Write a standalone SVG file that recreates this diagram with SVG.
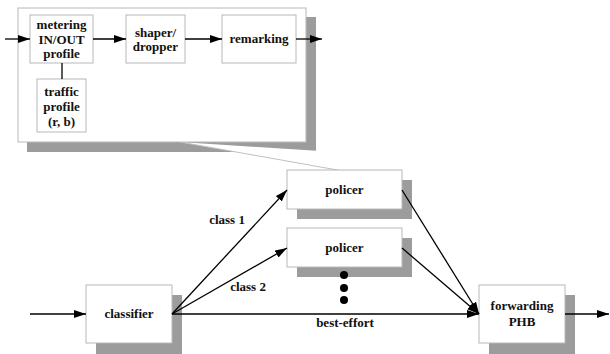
<svg xmlns="http://www.w3.org/2000/svg" width="610" height="354" viewBox="0 0 610 354">
<defs>
<style>
.box{fill:#fff;stroke:#b8b8b8;stroke-width:1}
.shadow{fill:#9c9c9c}
.t{font-family:'Liberation Serif','DejaVu Serif',serif;font-weight:bold;font-size:13px;fill:#111;text-anchor:middle}
.ln{stroke:#000;stroke-width:1.3;fill:none}
.arr{stroke:#000;stroke-width:1.3;fill:none;marker-end:url(#ah)}
</style>
<marker id="ah" markerUnits="userSpaceOnUse" markerWidth="13" markerHeight="9" refX="12" refY="4" orient="auto">
<path d="M0,0 L12,4 L0,8 z" fill="#000"/>
</marker>
</defs>
<rect width="610" height="354" fill="#fff"/>

<g id="callout">
<rect class="shadow" x="27" y="17" width="289" height="135"/>
<polygon points="180,142 320,151 343,171" fill="#fff"/>
<line x1="180" y1="142" x2="343" y2="171" stroke="#c0c0c0" stroke-width="1"/>
<rect class="box" x="18" y="8" width="288" height="134"/>
</g>

<g id="metering">
<rect class="box" x="30" y="15" width="63" height="48"/>
<text class="t" x="61.5" y="29">metering</text>
<text class="t" x="61.5" y="43.5">IN/OUT</text>
<text class="t" x="61.5" y="58">profile</text>
</g>

<g id="shaper">
<rect class="box" x="126" y="15" width="59" height="48"/>
<text class="t" x="155.5" y="37">shaper/</text>
<text class="t" x="155.5" y="51">dropper</text>
</g>

<g id="remarking">
<rect class="box" x="222" y="15" width="74" height="48"/>
<text class="t" x="259" y="42.5">remarking</text>
</g>

<g id="traffic">
<rect class="box" x="37" y="79" width="49" height="53"/>
<text class="t" x="61.5" y="96">traffic</text>
<text class="t" x="61.5" y="111">profile</text>
<text class="t" x="61.5" y="125.5">(r, b)</text>
</g>

<g id="policer1">
<rect class="shadow" x="297" y="180" width="115" height="39"/>
<rect class="box" x="287" y="170" width="115" height="39"/>
<text class="t" x="344.5" y="194">policer</text>
</g>

<g id="policer2">
<rect class="shadow" x="297" y="238" width="115" height="39"/>
<rect class="box" x="287" y="228" width="115" height="39"/>
<text class="t" x="344.5" y="252">policer</text>
</g>

<g id="dots">
<circle cx="344" cy="275" r="4" fill="#000"/>
<circle cx="344" cy="288" r="4" fill="#000"/>
<circle cx="344" cy="300" r="4" fill="#000"/>
</g>

<g id="classifier">
<rect class="shadow" x="96" y="295" width="86" height="59"/>
<rect class="box" x="86" y="285" width="86" height="58"/>
<text class="t" x="129" y="318">classifier</text>
</g>

<g id="forwarding">
<rect class="shadow" x="489" y="295" width="86" height="59"/>
<rect class="box" x="479" y="285" width="86" height="58"/>
<text class="t" x="522" y="310">forwarding</text>
<text class="t" x="522" y="326">PHB</text>
</g>

<g id="connectors">
<line class="arr" x1="5" y1="39" x2="30" y2="39"/>
<line class="arr" x1="93" y1="39" x2="126" y2="39"/>
<line class="arr" x1="185" y1="39" x2="222" y2="39"/>
<line class="arr" x1="296" y1="39" x2="322" y2="39"/>
<line class="ln" x1="62" y1="63" x2="62" y2="79"/>
<line class="arr" x1="30" y1="314" x2="86" y2="314"/>
<line class="arr" x1="172" y1="314" x2="287" y2="190"/>
<line class="arr" x1="172" y1="314" x2="287" y2="248"/>
<line class="arr" x1="172" y1="314" x2="479" y2="314"/>
<line class="arr" x1="402" y1="190" x2="479" y2="314"/>
<line class="arr" x1="402" y1="248" x2="479" y2="314"/>
<line class="arr" x1="565" y1="314" x2="609" y2="314"/>
<text class="t" x="227" y="224">class 1</text>
<text class="t" x="248" y="291">class 2</text>
<text class="t" x="345" y="327">best-effort</text>
</g>
</svg>
